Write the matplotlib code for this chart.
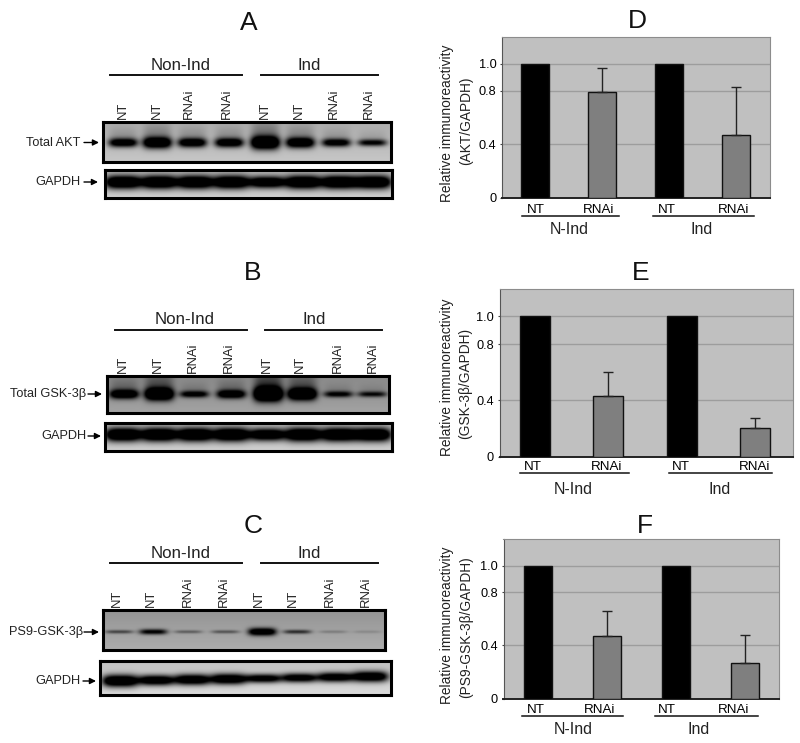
#!/usr/bin/env python3
# -*- coding: utf-8 -*-
import numpy as np
import matplotlib
matplotlib.use('Agg')
import matplotlib.pyplot as plt

plt.rcParams['font.family'] = ['Liberation Sans', 'DejaVu Sans']
plt.rcParams['text.color'] = '#222222'

W, H = 800, 743

# bar chart values
bar_labels = ['NT', 'RNAi', 'NT', 'RNAi']
group_labels = ['N-Ind', 'Ind']
lane_labels = ['NT', 'NT', 'RNAi', 'RNAi', 'NT', 'NT', 'RNAi', 'RNAi']
d_values = [1.0, 0.79, 1.0, 0.47]
d_tops = [None, 0.97, None, 0.83]
e_values = [1.0, 0.43, 1.0, 0.20]
e_tops = [None, 0.60, None, 0.275]
f_values = [1.0, 0.47, 1.0, 0.27]
f_tops = [None, 0.66, None, 0.475]

# band strength per lane of each blot, judged by eye
a_akt = [0.75, 0.90, 0.78, 0.78, 1.00, 0.85, 0.70, 0.60]
a_gapdh = [1.00, 1.00, 1.00, 1.00, 0.92, 1.00, 1.00, 1.00]
b_gsk = [0.72, 0.90, 0.55, 0.68, 1.00, 0.88, 0.50, 0.45]
b_gapdh = [1.00, 1.00, 1.00, 1.00, 0.92, 1.00, 1.00, 1.00]
c_ps9 = [0.30, 0.55, 0.22, 0.25, 0.75, 0.38, 0.12, 0.08]
c_gapdh = [1.00, 0.90, 0.92, 0.92, 0.80, 0.82, 0.85, 0.92]

fig = plt.figure(figsize=(W / 100, H / 100), dpi=100)


def px_axes(left, top, right, bottom, **kw):
    return fig.add_axes([left / W, 1 - bottom / H, (right - left) / W, (bottom - top) / H], **kw)


def draw_blot(strengths, box, band_y, lane_x, half_w, thick, bg, smear=0.0, tilt=0.0):
    left, top, right, bottom = box
    ax = px_axes(left, top, right, bottom)
    xs = np.arange(left, right, 0.5)
    ys = np.arange(top, bottom, 0.5)
    xx, yy = np.meshgrid(xs, ys)
    img = bg + 0.10 * (yy - top) / (bottom - top)
    for s, cx in zip(strengths, lane_x):
        y0 = band_y - tilt * (cx - left) / (right - left)
        hh = thick * (0.25 + 0.75 * s ** 2)
        across = np.exp(-((xx - cx) / half_w) ** 4)
        img = img - 1.25 * s * across * np.exp(-((yy - y0) / hh) ** 2)
        if smear > 0:
            img = img - smear * s * s * across * np.exp(-((yy - y0 + hh * 1.6) / (hh * 2.0)) ** 2)
    ax.imshow(np.clip(img, 0, 1), cmap='gray', vmin=0, vmax=1, aspect='auto',
              extent=(left, right, bottom, top), interpolation='bilinear')
    ax.set_xticks([])
    ax.set_yticks([])
    for sp in ax.spines.values():
        sp.set_linewidth(2.2)
        sp.set_color('black')


draw_blot(a_akt, (103, 122, 391, 162), 142.5,
          [123, 157, 192, 229, 265, 300, 336, 372], 14.5, 6.5, 0.68, 0.22)
draw_blot(a_gapdh, (105, 170, 392, 198), 182,
          [123, 159, 195, 231, 267, 303, 339, 373], 18, 6.5, 0.72)
draw_blot(b_gsk, (107, 376, 389, 413), 394,
          [124, 159, 194, 231, 268, 302, 338, 372], 14.5, 7.0, 0.54, 0.30)
draw_blot(b_gapdh, (105, 423, 392, 451), 435,
          [123, 159, 195, 231, 267, 303, 339, 373], 18, 6.5, 0.72)
draw_blot(c_ps9, (103, 610, 385, 650), 632,
          [119, 153, 188, 225, 262, 297, 333, 367], 14, 5.5, 0.58)
draw_blot(c_gapdh, (100, 661, 391, 695), 681,
          [120, 156, 192, 228, 263, 299, 335, 370], 18, 6.0, 0.76, 0.0, 5.0)


def draw_bars(box, values, tops, ylim, xlim, tick_pos, tick_pad):
    ax = px_axes(*box)
    ax.set_facecolor('#c0c0c0')
    ax.set_xlim(*xlim)
    ax.set_ylim(0, ylim)
    x = np.arange(len(values))
    ax.set_yticks([0.2, 0.4, 0.6, 0.8, 1.0])
    ax.grid(axis='y', color='#9d9d9d', lw=1.0)
    ax.set_axisbelow(True)
    colors = ['black', '#7f7f7f', 'black', '#7f7f7f']
    ax.bar(x, values, width=0.41, color=colors, edgecolor='#111111', linewidth=1.0, zorder=3)
    for xi, v, t in zip(x, values, tops):
        if t is not None:
            ax.errorbar(xi, v, yerr=[[0], [t - v]], color='#222222', lw=1.0,
                        capsize=3.5, capthick=1.0, zorder=4)
    ax.set_yticks([0, 0.4, 0.8, 1.0], ['0', '0.4', '0.8', '1.0'])
    ax.tick_params(axis='y', length=1.5, pad=2.5, labelsize=9.2, width=0.8, color='#444444')
    ax.set_xticks(tick_pos, bar_labels)
    ax.tick_params(axis='x', length=0, pad=tick_pad, labelsize=9.6)
    ax.spines['top'].set_color('#8c8c8c')
    ax.spines['right'].set_color('#8c8c8c')
    ax.spines['left'].set_color('#555555')
    ax.spines['bottom'].set_color('#222222')
    ax.spines['bottom'].set_linewidth(1.4)
    return ax


draw_bars((502, 37, 770, 198), d_values, d_tops, 1.2, (-0.49, 3.51), [0.01, 0.955, 1.97, 2.97], 4.5)
draw_bars((499.5, 288.5, 792.5, 456.5), e_values, e_tops, 1.197, (-0.484, 3.51), [-0.025, 0.975, 1.99, 2.99], 3.5)
draw_bars((503.5, 539, 779, 698.5), f_values, f_tops, 1.2, (-0.507, 3.5), [-0.03, 0.884, 1.87, 2.846], 4)

# overlay in pixel coordinates for the annotations
ov = fig.add_axes([0, 0, 1, 1])
ov.set_xlim(0, W)
ov.set_ylim(H, 0)
ov.axis('off')
ov.patch.set_alpha(0)

panels = [('A', 249, 23), ('B', 253, 273), ('C', 253, 526), ('D', 637, 21), ('E', 641, 273), ('F', 645, 526)]
for name, x, y in panels:
    ov.text(x, y, name, fontsize=19, ha='center', va='center', color='#111111')


def blot_header(line_y, text_y, x1, x2, x3, x4, tx1, tx2, lane_x, lane_bottom):
    ov.plot([x1, x2], [line_y, line_y], color='#111111', lw=1.4)
    ov.plot([x3, x4], [line_y, line_y], color='#111111', lw=1.4)
    ov.text(tx1, text_y, 'Non-Ind', fontsize=12.2, ha='center', va='center')
    ov.text(tx2, text_y, 'Ind', fontsize=12.2, ha='center', va='center')
    for lab, x in zip(lane_labels, lane_x):
        ov.text(x, lane_bottom, lab, fontsize=9.4, rotation=90, ha='center', va='bottom')


blot_header(75, 65, 110, 242, 261, 378, 181, 309, [123, 157, 189, 227, 265, 299, 334, 369], 119)
blot_header(330, 320, 115, 247, 265, 382, 185, 314, [123, 158, 193, 229, 267, 300, 338, 373], 373)
blot_header(563, 553, 110, 242, 261, 378, 181, 309, [117, 151, 188, 224, 259, 293, 330, 366], 607)


def arrow_label(text, right, y, x0, x1):
    ov.text(right, y, text, fontsize=9.2, ha='right', va='center')
    ov.annotate('', xy=(x1, y), xytext=(x0, y),
                arrowprops=dict(arrowstyle='-|>', color='black', lw=1.0, mutation_scale=9,
                                shrinkA=0, shrinkB=0))


arrow_label('Total AKT', 80, 142.5, 84, 99)
arrow_label('GAPDH', 81, 182, 84, 98)
arrow_label('Total GSK-3\u03b2', 86, 394, 88, 102)
arrow_label('GAPDH', 87, 436, 88, 101)
arrow_label('PS9-GSK-3\u03b2', 83, 632, 84, 99)
arrow_label('GAPDH', 81, 681, 83, 96)


def bar_footer(line_y, text_y, x1, x2, x3, x4, tx1, tx2):
    ov.plot([x1, x2], [line_y, line_y], color='#111111', lw=1.1)
    ov.plot([x3, x4], [line_y, line_y], color='#111111', lw=1.1)
    ov.text(tx1, text_y, group_labels[0], fontsize=11.5, ha='center', va='center')
    ov.text(tx2, text_y, group_labels[1], fontsize=11.5, ha='center', va='center')


bar_footer(216, 229, 522, 619, 653, 754, 569, 702)
bar_footer(473, 489, 520, 629, 669, 772, 573, 720)
bar_footer(716, 730, 522, 623, 655, 758, 573, 699)


def y_title(second, x2, y1, y2):
    ov.text(447, y1, 'Relative immunoreactivity', fontsize=9.9, rotation=90, ha='center', va='center')
    ov.text(x2, y2, second, fontsize=9.9, rotation=90, ha='center', va='center')


y_title('(AKT/GAPDH)', 466, 123, 121)
y_title('(GSK-3\u03b2/GAPDH)', 465, 377, 383)
y_title('(PS9-GSK-3\u03b2/GAPDH)', 466, 625, 627)

fig.savefig('out.png', dpi=100)
